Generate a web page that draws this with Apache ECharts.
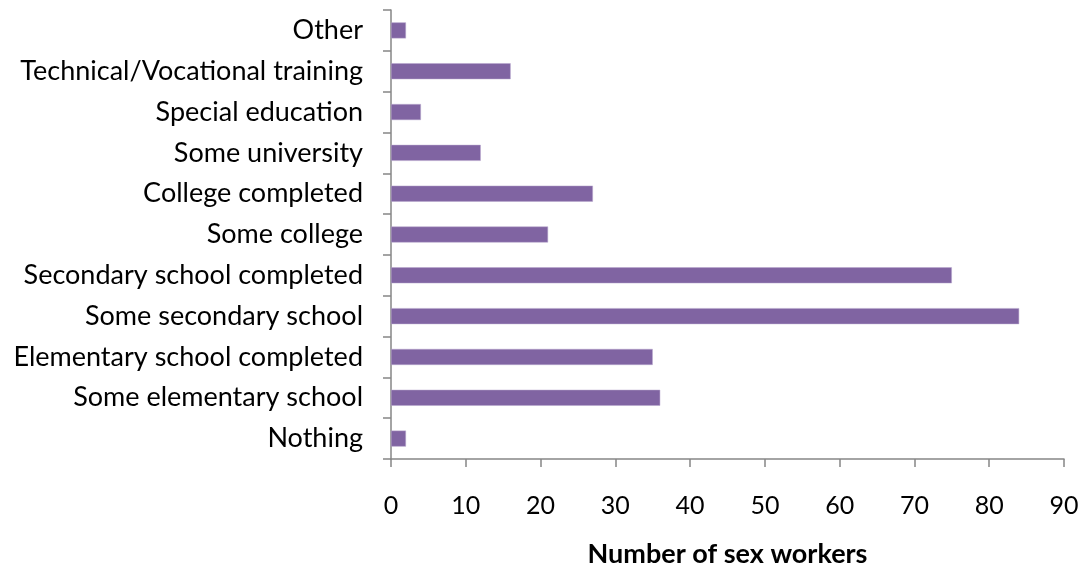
<!DOCTYPE html>
<html><head><meta charset="utf-8">
<script src="https://cdn.jsdelivr.net/npm/echarts@6/dist/echarts.min.js"></script>
<style>html,body{margin:0;padding:0;background:#fff}#c{width:1081px;height:571px}</style>
</head><body><div id="c"></div>
<script>
const categories = ["Nothing","Some elementary school","Elementary school completed","Some secondary school","Secondary school completed","Some college","College completed","Some university","Special education","Technical/Vocational training","Other"];
const values = [2,36,35,84,75,21,27,12,4,16,2];
const xTicks = {min:0,max:90,interval:10};
const axisTitle = "Number of sex workers";

const chart = echarts.init(document.getElementById('c'), null, {renderer:'canvas'});
const font = 'Lato, "Open Sans", sans-serif';
chart.setOption({
  animation:false,
  grid:{left:391,right:17,top:10,bottom:112,containLabel:false,outerBoundsMode:'none'},
  xAxis:{type:'value',min:xTicks.min,max:xTicks.max,interval:xTicks.interval,
    name:axisTitle,nameLocation:'middle',nameGap:82,
    nameTextStyle:{fontFamily:font,fontSize:27,fontWeight:'bold',color:'#000'},
    axisLine:{show:true,lineStyle:{color:'#868686',width:1.5}},
    axisTick:{show:true,length:8,lineStyle:{color:'#868686',width:1.5}},
    axisLabel:{margin:34,fontFamily:font,fontSize:25,color:'#000'},
    splitLine:{show:false}},
  yAxis:{type:'category',data:categories,
    axisLine:{show:true,lineStyle:{color:'#868686',width:1.5}},
    axisTick:{show:true,length:8,alignWithLabel:false,lineStyle:{color:'#868686',width:1.5}},
    axisLabel:{margin:28,fontFamily:font,fontSize:27,color:'#000',padding:[5,0,0,0]}},
  series:[{type:'bar',data:values,barWidth:16,
    itemStyle:{color:'#8064A2',borderColor:'#B7A6CC',borderWidth:0.5}}]
});
</script></body></html>
